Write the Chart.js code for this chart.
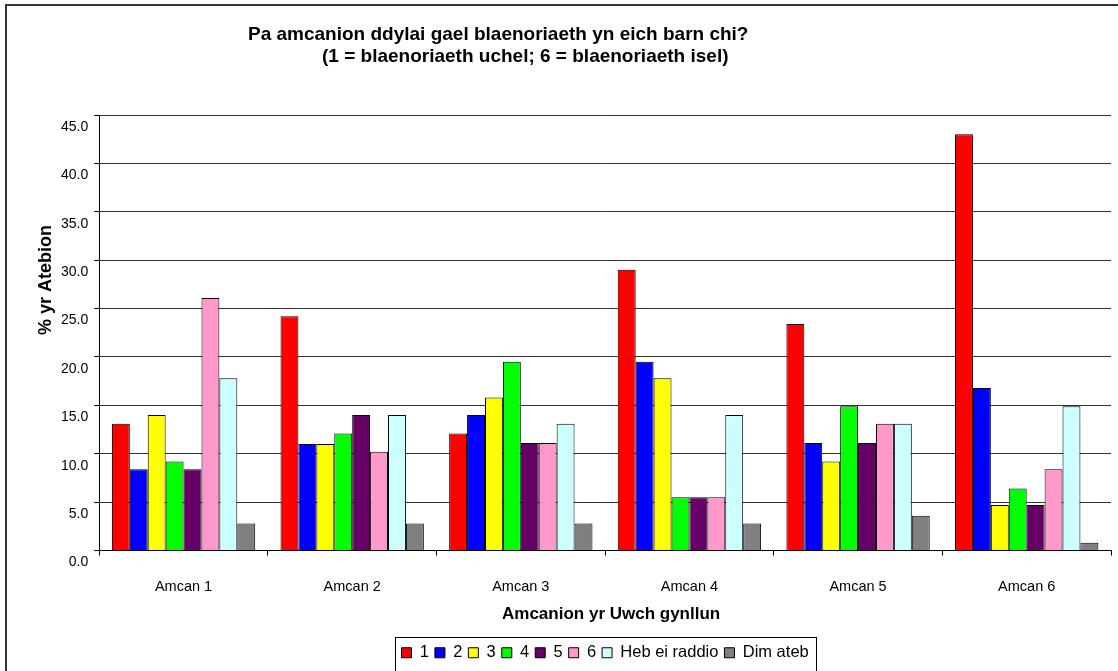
<!DOCTYPE html>
<html>
<head>
<meta charset="utf-8">
<script src="https://cdn.jsdelivr.net/npm/chart.js@4.4.1/dist/chart.umd.min.js"></script>
<style>
  body { margin: 0; background: #fff; }
  #wrap { width: 1118px; height: 671px; }
</style>
</head>
<body>
<div id="wrap"><canvas id="chartCanvas" width="1118" height="671"></canvas></div>
<script>
// categorïau a gwerthoedd (% yr atebion)
const categories = ['Amcan 1', 'Amcan 2', 'Amcan 3', 'Amcan 4', 'Amcan 5', 'Amcan 6'];
const seriesNames = ['1', '2', '3', '4', '5', '6', 'Heb ei raddio', 'Dim ateb'];
const seriesColors = ['#ff0000', '#0000ff', '#ffff00', '#00ff00', '#660066', '#ff99cc', '#ccffff', '#808080'];

const rank1 = [13.1, 24.2, 12.1, 29.0, 23.4, 43.0];
const rank2 = [8.4, 11.0, 14.0, 19.5, 11.1, 16.8];
const rank3 = [14.0, 11.0, 15.8, 17.8, 9.2, 4.7];
const rank4 = [9.2, 12.1, 19.5, 5.5, 14.9, 6.4];
const rank5 = [8.4, 14.0, 11.1, 5.5, 11.1, 4.7];
const rank6 = [26.1, 10.2, 11.1, 5.5, 13.1, 8.4];
const hebRaddio = [17.8, 14.0, 13.1, 14.0, 13.1, 14.9];
const dimAteb = [2.8, 2.8, 2.8, 2.8, 3.6, 0.8];

const yTicks = [0, 5, 10, 15, 20, 25, 30, 35, 40, 45];

const titleLines = [
    'Pa amcanion ddylai gael blaenoriaeth yn eich barn chi?',
    '(1 = blaenoriaeth uchel; 6 = blaenoriaeth isel)'
];
const yTitle = '% yr Atebion';
const xTitle = 'Amcanion yr Uwch gynllun';

const allSeries = [rank1, rank2, rank3, rank4, rank5, rank6, hebRaddio, dimAteb];
const FONT = '"Liberation Sans", Arial, sans-serif';

// teitl, teitlau'r echelinau a fframiau
const extras = {
    id: 'extras',
    beforeDraw(chart) {
        const ctx = chart.ctx;
        ctx.save();
        ctx.fillStyle = '#fff';
        ctx.fillRect(0, 0, chart.width, chart.height);
        ctx.strokeStyle = '#333';
        ctx.lineWidth = 2;
        ctx.beginPath();
        ctx.moveTo(6, chart.height);
        ctx.lineTo(6, 5);
        ctx.lineTo(chart.width, 5);
        ctx.stroke();
        ctx.restore();
    },
    afterDraw(chart) {
        const ctx = chart.ctx;
        const area = chart.chartArea;
        ctx.save();
        ctx.fillStyle = '#000';
        ctx.font = 'bold 19px ' + FONT;
        ctx.textBaseline = 'middle';
        ctx.textAlign = 'left';
        ctx.fillText(titleLines[0], 248, 35);
        ctx.fillText(titleLines[1], 322, 57);

        ctx.font = 'bold 17px ' + FONT;
        ctx.textAlign = 'center';
        ctx.fillText(xTitle, (area.left + area.right) / 2 + 6, area.bottom + 64);

        ctx.font = 'bold 18px ' + FONT;
        ctx.translate(46, 280);
        ctx.rotate(-Math.PI / 2);
        ctx.fillText(yTitle, 0, 0);
        ctx.restore();

        // ffrâm yr allwedd
        const boxes = chart.legend.legendHitBoxes;
        if (boxes && boxes.length) {
            let l = Infinity, r = -Infinity, t = Infinity;
            boxes.forEach(b => {
                l = Math.min(l, b.left);
                r = Math.max(r, b.left + b.width);
                t = Math.min(t, b.top);
            });
            ctx.save();
            ctx.strokeStyle = '#000';
            ctx.lineWidth = 1;
            ctx.strokeRect(Math.round(l - 7) + 0.5, Math.round(t - 8) + 0.5, Math.round(r - l + 14), 60);
            ctx.restore();
        }
    }
};

new Chart(document.getElementById('chartCanvas'), {
    type: 'bar',
    data: {
        labels: categories,
        datasets: allSeries.map((d, i) => ({
            label: seriesNames[i],
            data: d,
            backgroundColor: seriesColors[i],
            borderColor: '#000',
            borderWidth: 1,
            categoryPercentage: 0.85,
            barPercentage: 1.0
        }))
    },
    options: {
        responsive: false,
        animation: false,
        layout: {
            padding: { left: 0, right: 7, top: 115, bottom: 0 }
        },
        plugins: {
            legend: {
                position: 'bottom',
                fullSize: false,
                labels: {
                    boxWidth: 10,
                    boxHeight: 10,
                    padding: 6,
                    color: '#000',
                    font: { family: FONT, size: 16.5 }
                }
            },
            tooltip: { enabled: false }
        },
        scales: {
            x: {
                afterFit(scale) {
                    scale.height = 88;
                },
                grid: {
                    drawOnChartArea: false,
                    tickLength: 5,
                    tickColor: '#000'
                },
                border: { color: '#000' },
                ticks: {
                    color: '#000',
                    padding: 23,
                    font: { family: FONT, size: 14.5 }
                }
            },
            y: {
                min: 0,
                max: 45,
                afterBuildTicks(scale) {
                    scale.ticks = yTicks.map(v => ({ value: v }));
                },
                afterFit(scale) {
                    scale.width += 55;
                },
                grid: {
                    color: '#333',
                    tickLength: 5,
                    tickColor: '#000'
                },
                border: { color: '#000' },
                ticks: {
                    color: '#000',
                    padding: 6,
                    labelOffset: 12,
                    callback: v => Number(v).toFixed(1),
                    font: { family: FONT, size: 14 }
                }
            }
        }
    },
    plugins: [extras]
});
</script>
</body>
</html>
